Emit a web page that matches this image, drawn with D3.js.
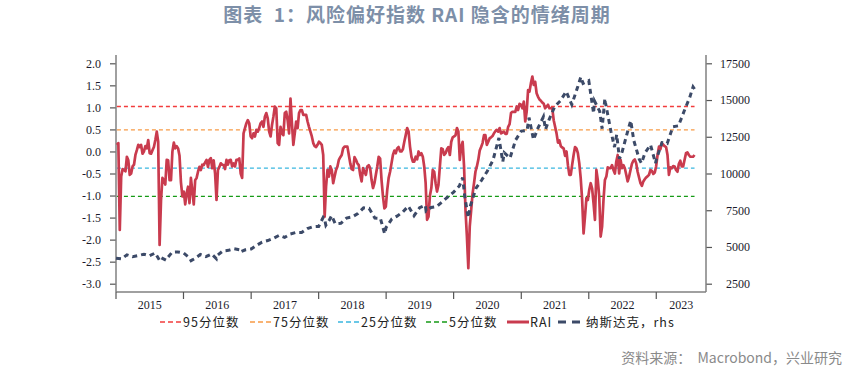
<!DOCTYPE html>
<html>
<head>
<meta charset="utf-8">
<script src="https://cdn.jsdelivr.net/npm/d3@7"></script>
<style>
  body { margin: 0; background: #fff; }
  svg { display: block; }
  .num { font-family: "Liberation Serif", "Times New Roman", serif; font-size: 12px; fill: #1b1b2b; }
</style>
</head>
<body>
<svg id="chart" width="847" height="376"></svg>
<script>
// RAI: evenly spaced observations between first and last date
var raiStart = "2015-01-06",
    raiEnd = "2023-07-27";
var raiValues = [
  0.15, 0.19, -1.78, -0.57, -0.40, -0.42, -0.45, -0.12, -0.20, -0.53,
  -0.50, -0.34, -0.30, -0.08, 0.03, 0.15, 0.10, 0.15, -0.05, 0.00,
  0.12, 0.07, 0.26, -0.04, -0.05, 0.03, 0.10, 0.26, 0.45, 0.22,
  -2.12, -1.10, -0.60, -0.65, -0.75, -0.19, -0.20, -0.65, -0.65, 0.00,
  0.20, 0.07, 0.12, 0.07, -0.10, -0.70, -1.02, -0.91, -1.20, -0.95,
  -0.80, -1.17, -0.60, -0.90, -1.20, -0.65, -0.60, -0.46, -0.35, -0.42,
  -0.30, -0.31, -0.25, -0.19, -0.35, -0.19, -0.15, -0.38, -0.20, -0.50,
  -1.10, -0.42, -0.35, -0.27, -0.30, -0.31, -0.40, -0.19, -0.30, -0.20,
  -0.19, -0.34, -0.27, -0.34, -0.19, -0.19, -0.16, -0.50, -0.60, 0.41,
  0.53, 0.64, 0.71, 0.64, 0.34, 0.30, 0.41, 0.34, 0.49, 0.45,
  0.53, 0.64, 0.68, 0.56, 0.79, 0.87, 0.75, 0.45, 0.34, 0.60,
  0.79, 1.02, 0.98, 0.19, 0.15, 0.56, 0.41, 0.37, 0.87, 0.90,
  0.71, 0.41, 1.20, 0.64, 0.15, 0.41, 0.68, 0.53, 0.87, 0.94,
  0.94, 0.83, 0.83, 0.83, 0.68, 0.56, 0.45, 0.34, 0.19, 0.12,
  0.10, 0.15, 0.22, 0.19, 0.15, -0.08, -1.48, -0.80, -0.42, -0.57,
  -0.34, -0.42, -0.72, -0.57, -0.42, -0.34, -0.19, -0.13, -0.08, 0.07,
  0.11, 0.11, 0.11, -0.08, -0.27, -0.40, -0.42, -0.13, -0.19, -0.27,
  -0.31, -0.53, -0.68, -0.38, -0.46, -0.53, -0.34, -0.31, -0.38, -0.65,
  -0.83, -0.72, -0.53, -0.34, -0.12, -0.16, -0.65, -1.02, -1.29, -1.25,
  -0.87, -0.60, -0.46, -0.27, -0.08, 0.02, -0.04, 0.07, 0.10, 0.00,
  0.00, 0.05, 0.22, 0.37, 0.53, 0.45, 0.11, -0.12, -0.23, -0.23,
  -0.12, -0.18, 0.00, -0.08, -0.04, -0.12, -0.34, -0.72, -1.55, -1.48,
  -1.00, -0.83, -0.42, -0.46, -0.72, -0.91, -0.76, -0.34, 0.07, 0.05,
  -0.08, -0.04, 0.05, 0.10, -0.08, 0.22, 0.32, 0.34, 0.37, 0.53,
  0.45, -0.19, 0.11, 0.22, -0.34, -1.33, -1.93, -2.65, -1.70, -1.33,
  -0.95, -0.72, -0.46, -0.34, -0.19, 0.02, 0.10, 0.19, 0.37, 0.37,
  0.15, 0.22, 0.30, 0.32, 0.35, 0.41, 0.46, 0.49, 0.45, 0.53,
  0.41, 0.43, 0.45, 0.40, 0.40, 0.56, 0.62, 0.87, 0.90, 0.90,
  0.90, 1.02, 0.94, 1.08, 1.06, 0.98, 1.13, 0.68, 0.90, 1.39,
  1.36, 1.55, 1.70, 1.51, 1.58, 1.32, 1.24, 1.18, 1.15, 1.11,
  1.08, 0.98, 1.02, 1.06, 0.98, 0.98, 0.98, 0.71, 0.56, 0.41,
  0.20, 0.25, 0.12, 0.09, 0.07, -0.10, 0.00, -0.31, -0.53, -0.53,
  -0.30, -0.08, 0.10, 0.07, -0.04, -0.27, -0.61, -1.10, -1.86, -1.48,
  -1.06, -1.10, -0.87, -0.72, -0.84, -1.17, -1.55, -0.42, -0.65, -1.02,
  -1.93, -1.71, -1.10, -0.65, -0.57, -0.36, -0.38, -0.38, -0.31, -0.42,
  -0.50, -0.23, -0.08, -0.50, -0.19, -0.38, -0.31, -0.38, -0.53, -0.68,
  -0.57, -0.42, -0.28, -0.21, -0.18, -0.27, -0.46, -0.59, -0.72, -0.78,
  -0.68, -0.63, -0.59, -0.56, -0.53, -0.42, -0.44, -0.51, -0.48, -0.34,
  -0.08, 0.11, 0.05, 0.19, 0.15, 0.12, 0.10, -0.08, -0.53, -0.36,
  -0.38, -0.33, -0.34, -0.42, -0.46, -0.28, -0.21, -0.34, -0.34, -0.19,
  -0.04, -0.02, -0.08, -0.12, -0.12, -0.12, -0.08
];

var ndxDates = [
  "2015-01-01","2015-02-01","2015-03-01","2015-04-01","2015-05-01","2015-06-01","2015-07-01","2015-08-01","2015-08-24","2015-09-01",
  "2015-09-28","2015-10-01","2015-11-01","2015-12-01","2016-01-01","2016-02-01","2016-02-11","2016-03-01","2016-04-01","2016-05-01",
  "2016-06-01","2016-06-27","2016-07-01","2016-08-01","2016-09-01","2016-10-01","2016-11-01","2016-11-04","2016-12-01","2017-01-01",
  "2017-02-01","2017-03-01","2017-04-01","2017-05-01","2017-06-01","2017-07-01","2017-08-01","2017-09-01","2017-10-01","2017-11-01",
  "2017-12-01","2018-01-01","2018-01-26","2018-02-01","2018-02-09","2018-03-01","2018-03-12","2018-04-01","2018-05-01","2018-06-01",
  "2018-07-01","2018-08-01","2018-09-01","2018-10-01","2018-11-01","2018-12-01","2018-12-24","2019-01-01","2019-02-01","2019-03-01",
  "2019-04-01","2019-05-01","2019-06-01","2019-07-01","2019-08-01","2019-08-05","2019-09-01","2019-10-01","2019-11-01","2019-12-01",
  "2020-01-01","2020-02-01","2020-02-19","2020-03-01","2020-03-20","2020-04-01","2020-05-01","2020-06-01","2020-07-01","2020-08-01",
  "2020-09-02","2020-09-23","2020-10-01","2020-11-01","2020-12-01","2021-01-01","2021-02-01","2021-02-12","2021-03-08","2021-04-01",
  "2021-05-01","2021-05-12","2021-06-01","2021-07-01","2021-08-01","2021-09-01","2021-10-01","2021-11-01","2021-11-19","2021-12-01",
  "2022-01-01","2022-01-27","2022-02-01","2022-03-01","2022-03-14","2022-03-29","2022-04-01","2022-05-01","2022-05-20","2022-06-01",
  "2022-06-16","2022-07-01","2022-08-01","2022-08-16","2022-09-01","2022-10-01","2022-10-13","2022-11-01","2022-12-01","2022-12-28",
  "2023-01-01","2023-02-01","2023-03-01","2023-04-01","2023-05-01","2023-06-01","2023-07-01","2023-07-19","2023-07-27"
];
var ndxValues = [
  4236, 4189, 4463, 4334, 4415, 4509, 4397, 4588, 4100, 4274,
  4100, 4181, 4648, 4664, 4593, 4280, 4070, 4202, 4484, 4341,
  4523, 4200, 4418, 4731, 4771, 4875, 4801, 4660, 4810, 4864,
  5119, 5331, 5436, 5584, 5788, 5647, 5880, 5988, 5980, 6248,
  6374, 6397, 7020, 6949, 6480, 6855, 7130, 6581, 6605, 6968,
  7040, 7272, 7660, 7627, 6967, 6950, 5900, 6330, 6906, 7099,
  7378, 7781, 7128, 7671, 7842, 7450, 7692, 7750, 8083, 8403,
  8733, 9151, 9718, 8462, 7000, 7813, 9000, 9555, 10157, 10905,
  12420, 10800, 11418, 11052, 12268, 12888, 12925, 13800, 12300, 13091,
  13861, 13000, 13687, 14554, 14960, 15582, 14689, 15850, 16570, 16135,
  16320, 14100, 14930, 14237, 13050, 15100, 14838, 12855, 11800, 12643,
  11000, 11503, 12947, 13600, 12272, 10971, 10700, 11406, 11951, 10700,
  10940, 12102, 12042, 13181, 13246, 14254, 15179, 15900, 15750
];

var quantileNames = ["95分位数", "75分位数", "25分位数", "5分位数"];
var quantileValues = [1.02, 0.49, -0.38, -1.02];
var seriesNames = ["RAI", "纳斯达克，rhs"];
var years = [2015, 2016, 2017, 2018, 2019, 2020, 2021, 2022, 2023];
var leftTicks = [-3, -2.5, -2, -1.5, -1, -0.5, 0, 0.5, 1, 1.5, 2];
var rightTicks = [2500, 5000, 7500, 10000, 12500, 15000, 17500];

var quantileColors = ["#f23c3c", "#f79a45", "#3ab7e0", "#169a16"],
    raiColor = "#c93b4e",
    ndxColor = "#3c4a68",
    axisColor = "#808080";

var svg = d3.select("#chart"),
    parse = d3.timeParse("%Y-%m-%d");

var x = d3.scaleTime()
    .domain([new Date(2015, 0, 1), new Date(2023, 8, 27)])
    .range([116, 706]);
var yL = d3.scaleLinear().domain([-3, 2]).range([283.7, 63.3]);
var yR = d3.scaleLinear().domain([2500, 17500]).range([283.7, 63.3]);

var t0 = parse(raiStart), t1 = parse(raiEnd);
var rai = raiValues.map(function(v, i) {
  return { date: new Date(+t0 + (t1 - t0) * i / (raiValues.length - 1)), value: v };
});
var ndx = ndxDates.map(function(d, i) {
  return { date: parse(d), value: ndxValues[i] };
});

// title
svg.append("text")
    .attr("x", 417).attr("y", 22)
    .attr("text-anchor", "middle")
    .style("white-space", "pre")
    .style("font-family", "'Noto Sans CJK SC', 'Noto Sans', sans-serif")
    .style("font-size", "19px")
    .style("font-weight", "bold")
    .style("letter-spacing", "1px")
    .style("fill", "#7d8fa8")
    .text("图表  1：风险偏好指数 RAI 隐含的情绪周期");

// axes
var fmt = d3.format(".1f");
var gL = svg.append("g")
    .attr("transform", "translate(116,0)")
    .call(d3.axisLeft(yL).tickValues(leftTicks).tickSize(6).tickPadding(9)
      .tickFormat(function(d) { return fmt(d).replace("\u2212", "-"); }));
var gR = svg.append("g")
    .attr("transform", "translate(706,0)")
    .call(d3.axisRight(yR).tickValues(rightTicks).tickSize(6).tickFormat(d3.format("d")));
gR.selectAll("text").attr("x", 44).style("text-anchor", "end");

[gL, gR].forEach(function(g) {
  g.select(".domain").remove();
  g.selectAll("line").attr("stroke", "#555").attr("stroke-width", 1.2);
  g.selectAll("text").attr("class", "num").attr("fill", null).style("font-size", null).style("font-family", null);
});

svg.append("line").attr("x1", 116).attr("x2", 116).attr("y1", 55).attr("y2", 292)
    .attr("stroke", axisColor).attr("stroke-width", 1.5);
svg.append("line").attr("x1", 706).attr("x2", 706).attr("y1", 55).attr("y2", 292)
    .attr("stroke", axisColor).attr("stroke-width", 1.5);
svg.append("line").attr("x1", 116).attr("x2", 706).attr("y1", 292).attr("y2", 292)
    .attr("stroke", axisColor).attr("stroke-width", 1.5);

var xAxis = svg.append("g");
years.forEach(function(yr) {
  var a = x(new Date(yr, 0, 1)),
      b = Math.min(x(new Date(yr + 1, 0, 1)), x.range()[1]);
  xAxis.append("line")
      .attr("x1", a).attr("x2", a).attr("y1", 292).attr("y2", 299)
      .attr("stroke", "#555").attr("stroke-width", 1.2);
  xAxis.append("text")
      .attr("class", "num")
      .attr("x", (a + b) / 2).attr("y", 309)
      .attr("text-anchor", "middle")
      .text(yr);
});

// quantile reference lines across the RAI span
var ext = d3.extent(rai, function(d) { return d.date; });
svg.append("g").selectAll("line")
    .data(quantileValues)
  .enter().append("line")
    .attr("x1", x(ext[0])).attr("x2", x(ext[1]))
    .attr("y1", function(d) { return yL(d); })
    .attr("y2", function(d) { return yL(d); })
    .attr("stroke", function(d, i) { return quantileColors[i]; })
    .attr("stroke-width", 1.3)
    .attr("stroke-dasharray", "4,3");

svg.append("path")
    .datum(rai)
    .attr("fill", "none")
    .attr("stroke", raiColor)
    .attr("stroke-width", 2.7)
    .attr("stroke-linejoin", "round")
    .attr("d", d3.line().x(function(d) { return x(d.date); }).y(function(d) { return yL(d.value); }));

svg.append("path")
    .datum(ndx)
    .attr("fill", "none")
    .attr("stroke", ndxColor)
    .attr("stroke-width", 3)
    .attr("stroke-dasharray", "5,4")
    .attr("d", d3.line().x(function(d) { return x(d.date); }).y(function(d) { return yR(d.value); }));

// legend
var legendFont = "'Noto Sans CJK SC', sans-serif";
var legendItems = [
  { name: quantileNames[0], x: 160, color: quantileColors[0], dash: "5,3", w: 1.5 },
  { name: quantileNames[1], x: 250, color: quantileColors[1], dash: "5,3", w: 1.5 },
  { name: quantileNames[2], x: 338, color: quantileColors[2], dash: "5,3", w: 1.5 },
  { name: quantileNames[3], x: 426, color: quantileColors[3], dash: "5,3", w: 1.5 },
  { name: seriesNames[0], x: 507, color: raiColor, dash: null, w: 3 },
  { name: seriesNames[1], x: 558, color: ndxColor, dash: "8,6", w: 3 }
];
var leg = svg.append("g").selectAll("g")
    .data(legendItems)
  .enter().append("g")
    .attr("transform", function(d) { return "translate(" + d.x + ",322)"; });
leg.append("line")
    .attr("x1", 0).attr("x2", function(d, i) { return i === 5 ? 24 : 22; })
    .attr("stroke", function(d) { return d.color; })
    .attr("stroke-width", function(d) { return d.w; })
    .attr("stroke-dasharray", function(d) { return d.dash; });
leg.append("text")
    .attr("x", function(d, i) { return i === 5 ? 28 : 23; })
    .attr("y", 5)
    .style("font-family", legendFont)
    .style("font-size", "12.5px")
    .style("letter-spacing", "1px")
    .style("fill", "#222")
    .text(function(d) { return d.name; });

// source
svg.append("text")
    .attr("x", 842).attr("y", 363)
    .attr("text-anchor", "end")
    .style("white-space", "pre")
    .style("font-family", "'Noto Sans CJK SC', sans-serif")
    .style("font-size", "14px")
    .style("fill", "#8a8a8a")
    .text("资料来源：  Macrobond，兴业研究");
</script>
</body>
</html>
